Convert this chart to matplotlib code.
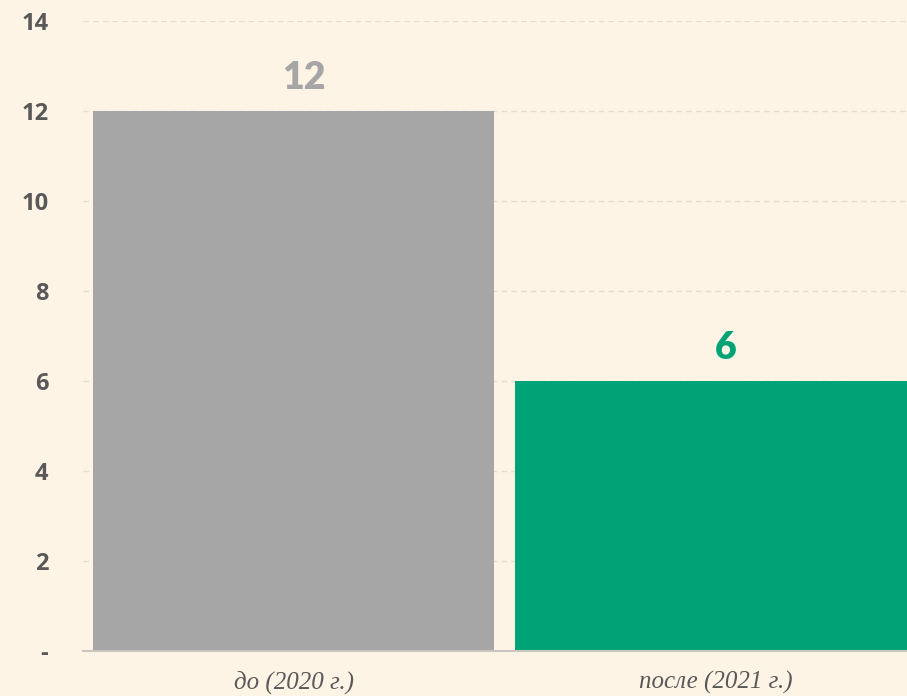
import numpy as np
import matplotlib.pyplot as plt

categories = ["до (2020 г.)", "после (2021 г.)"]
values = [12, 6]
bar_colors = ["#A6A6A6", "#00A375"]
ytick_values = [0, 2, 4, 6, 8, 10, 12, 14]
ytick_labels = ["-", "2", "4", "6", "8", "10", "12", "14"]

bg = "#FEF4E6"

fig = plt.figure(figsize=(9.07, 6.96), dpi=100, facecolor=bg)
ax = fig.add_axes([83 / 907, 45 / 696, 824 / 907, 630 / 696], facecolor=bg)

x = np.arange(len(categories))
ax.bar(x, values, width=0.95, color=bar_colors, zorder=3)

for xi, v, c in zip(x, values, bar_colors):
    ax.text(xi + 0.025, v + 0.35, str(v), ha="center", va="bottom",
            fontsize=27, fontweight="heavy", family="Lato", color=c)

ax.set_ylim(0, 14)
ax.set_xlim(-0.499, 1.454)
ax.set_yticks(ytick_values)
ax.set_yticklabels(ytick_labels, fontsize=17, fontweight="bold",
                   family="Open Sans", color="#595959")
ax.set_xticks(x)
ax.set_xticklabels(categories, fontsize=18, style="italic",
                   family=["Liberation Serif", "DejaVu Serif"],
                   color="#595959")
ax.tick_params(axis="y", length=0, pad=25)
ax.tick_params(axis="x", length=0, pad=14)

ax.grid(axis="y", linestyle=(0, (4, 3)), color="#E3DCD2", linewidth=1, zorder=0)
for s in ["top", "right", "left"]:
    ax.spines[s].set_visible(False)
ax.spines["bottom"].set_color("#C9C6C0")
ax.spines["bottom"].set_linewidth(1.5)
ax.spines["bottom"].set_zorder(4)

fig.savefig("out.png", facecolor=bg)
